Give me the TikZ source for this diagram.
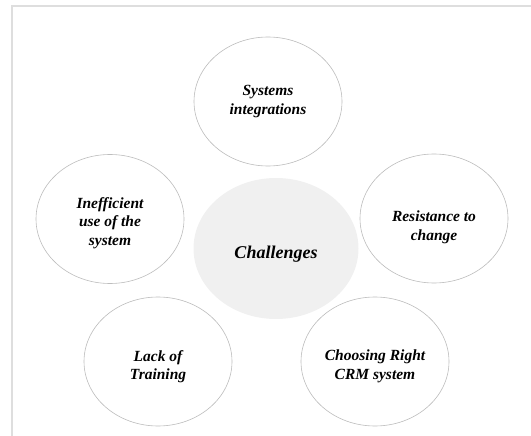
\documentclass[tikz,border=0pt]{standalone}
\usepackage{fontspec}
\setmainfont{Liberation Serif}
\usepackage{xcolor}
\usetikzlibrary{shapes.geometric}
\definecolor{framegray}{HTML}{DEDEDE}
\definecolor{ringgray}{HTML}{BDBDBD}
\definecolor{hubgray}{HTML}{F0F0F0}

\begin{document}
\begin{tikzpicture}
   [x=1pt, y=-1pt,
   ringball/.style={ellipse, draw=ringgray, fill=white, line width=0.6pt, inner sep=0pt, minimum width=148pt, minimum height=129pt},
   hubball/.style={ellipse, draw=none, fill=hubgray, inner sep=0pt, minimum width=165pt, minimum height=141pt},
   ringtext/.style={align=center, inner sep=0pt, font=\fontsize{15.5}{18.5}\selectfont\bfseries\itshape},
   hubtext/.style={align=center, inner sep=0pt, font=\fontsize{18}{21}\selectfont\bfseries\itshape},
   ]
 \useasboundingbox (0,0) rectangle (531,436);
 \draw[framegray, line width=1.2pt] (12,436) -- (12,6) -- (531,6);
 \node at (276,248.5) [hubball]  (hub)    {};
 \node at (268,101.5) [ringball] (sys)    {};
 \node at (110,219)   [ringball] (ineff)  {};
 \node at (434,218.5) [ringball] (resist) {};
 \node at (158,361.5) [ringball] (train)  {};
 \node at (375,361.5) [ringball] (crm)    {};
 %text sits a little below each centre
 \node at ([yshift=-6pt]hub.center)    [hubtext]  (hubt)    {Challenges};
 \node at ([yshift=0pt]sys.center)     [ringtext] (syst)    {Systems\\ integrations};
 \node at ([yshift=-4pt]ineff.center)  [ringtext] (innefft) {Inefficient\\ use of the\\ system};
 \node at ([yshift=-9pt]resist.center) [ringtext] (resistt) {Resistance to\\ change};
 \node at ([yshift=-5pt]train.center)  [ringtext] (traint)  {Lack of\\ Training};
 \node at ([yshift=-5pt]crm.center)    [ringtext] (crmt)    {Choosing Right\\ CRM system};
\end{tikzpicture}
\end{document}
